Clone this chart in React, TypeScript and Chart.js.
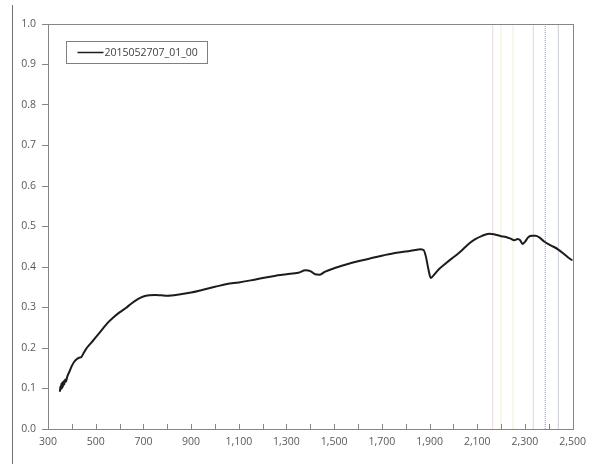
import React, { useEffect, useRef } from "react";
import { Chart, registerables } from "chart.js";

Chart.register(...registerables);

// Reflectance spectrum (wavelength in nm, reflectance 0..1)
const seriesLabel = "2015052707_01_00";
const wavelengths = [
  350, 352, 354, 356, 358, 360, 362, 365, 368, 372, 376, 380, 390, 400, 410, 420, 430, 440, 450, 460,
  480, 500, 525, 550, 575, 600, 625, 650, 675, 700, 725, 750, 775, 800, 850, 900, 950, 1000, 1050,
  1100, 1150, 1200, 1250, 1300, 1350, 1380, 1400, 1420, 1440, 1460, 1500, 1550, 1600, 1650, 1700,
  1750, 1800, 1840, 1860, 1875, 1885, 1895, 1905, 1915, 1940, 1970, 2000, 2030, 2060, 2090, 2120,
  2150, 2170, 2200, 2220, 2240, 2255, 2270, 2280, 2290, 2300, 2315, 2330, 2345, 2360, 2380, 2400,
  2420, 2440, 2460, 2480, 2500,
];
const reflectance = [
  0.092, 0.105, 0.098, 0.112, 0.1, 0.115, 0.104, 0.118, 0.11, 0.122, 0.117, 0.128, 0.142, 0.156, 0.166,
  0.172, 0.176, 0.178, 0.188, 0.198, 0.212, 0.226, 0.244, 0.262, 0.276, 0.288, 0.298, 0.31, 0.32, 0.327,
  0.33, 0.331, 0.33, 0.329, 0.332, 0.337, 0.344, 0.351, 0.358, 0.362, 0.367, 0.373, 0.378, 0.382, 0.386,
  0.392, 0.39, 0.382, 0.381, 0.388, 0.397, 0.406, 0.414, 0.421, 0.428, 0.434, 0.438, 0.442, 0.444, 0.442,
  0.425, 0.395, 0.373, 0.378, 0.395, 0.41, 0.424, 0.438, 0.455, 0.468, 0.477, 0.482, 0.481, 0.476, 0.474,
  0.47, 0.466, 0.469, 0.466, 0.457, 0.462, 0.474, 0.477, 0.477, 0.473, 0.463, 0.456, 0.45, 0.443, 0.434,
  0.424, 0.416,
];

// Absorption feature markers
const markerWavelengths = [2165, 2200, 2250, 2335, 2385, 2440];
const markerColors = ["#f0d6d6", "#f3efcf", "#f5ecd9", "#cfdce4", "#8692a2", "#c7cfdc"];
const markerDashes = [[], [], [], [], [1, 1], []];

const xMin = 300;
const xMax = 2500;
const yMin = 0;
const yMax = 1;

const labelFont = { family: "'Open Sans', sans-serif", size: 10.5 };
const labelColor = "#595959";
const axisColor = "#868686";

const formatThousands = (v: number) => {
  const s = String(Math.round(v));
  return s.length > 3 ? s.slice(0, s.length - 3) + "," + s.slice(s.length - 3) : s;
};

const framePlugin = {
  id: "frame",
  afterDraw(chart: any) {
    const { ctx, chartArea, scales } = chart;
    const { left, right, top, bottom } = chartArea;
    ctx.save();
    // plot box
    ctx.strokeStyle = axisColor;
    ctx.lineWidth = 1;
    ctx.strokeRect(Math.round(left) + 0.5, Math.round(top) + 0.5, Math.round(right - left), Math.round(bottom - top));
    // inward minor ticks on the x axis
    const xs = scales.x;
    ctx.beginPath();
    for (const t of xs.ticks) {
      const px = Math.round(xs.getPixelForValue(t.value)) + 0.5;
      ctx.moveTo(px, Math.round(bottom));
      ctx.lineTo(px, Math.round(bottom) - 5);
    }
    ctx.stroke();
    // outer frame edge
    ctx.strokeStyle = "#707070";
    ctx.beginPath();
    ctx.moveTo(12.5, 5);
    ctx.lineTo(12.5, chart.height);
    ctx.stroke();
    // legend box
    const ds = chart.data.datasets[0];
    const bx = left + 18.5;
    const by = top + 17.5;
    const bw = 141;
    const bh = 22;
    ctx.fillStyle = "#ffffff";
    ctx.fillRect(bx, by, bw, bh);
    ctx.strokeStyle = "#7f7f7f";
    ctx.strokeRect(bx, by, bw, bh);
    ctx.strokeStyle = ds.borderColor;
    ctx.lineWidth = 1.5;
    ctx.beginPath();
    ctx.moveTo(bx + 11, by + 11);
    ctx.lineTo(bx + 37, by + 11);
    ctx.stroke();
    ctx.fillStyle = "#404040";
    ctx.font = "10.5px 'Open Sans', sans-serif";
    ctx.textBaseline = "middle";
    ctx.textAlign = "left";
    ctx.fillText(ds.label, bx + 38, by + 11.5);
    ctx.restore();
  },
};

export default function App() {
  const canvasRef = useRef<HTMLCanvasElement | null>(null);

  useEffect(() => {
    if (!canvasRef.current) return;
    const spectrum = wavelengths.map((w, i) => ({ x: w, y: reflectance[i] }));
    const markers = markerWavelengths.map((w, i) => ({
      label: "marker " + w,
      data: [
        { x: w, y: yMin },
        { x: w, y: yMax },
      ],
      borderColor: markerColors[i],
      borderWidth: 1,
      borderDash: markerDashes[i],
      pointRadius: 0,
      tension: 0,
    }));

    const chart = new Chart(canvasRef.current, {
      type: "line",
      data: {
        datasets: [
          {
            label: seriesLabel,
            data: spectrum,
            borderColor: "#1c1c1c",
            borderWidth: 2,
            pointRadius: 0,
            cubicInterpolationMode: "monotone",
          },
          ...markers,
        ],
      },
      options: {
        animation: false,
        responsive: false,
        devicePixelRatio: 1,
        layout: { padding: { top: 24, right: 19, left: 0, bottom: 0 } },
        plugins: {
          legend: { display: false },
          tooltip: { enabled: false },
        },
        scales: {
          x: {
            type: "linear",
            min: xMin,
            max: xMax,
            border: { display: false },
            grid: { display: true, drawOnChartArea: false, drawTicks: false },
            ticks: {
              stepSize: 100,
              autoSkip: false,
              maxRotation: 0,
              padding: 7,
              color: labelColor,
              font: labelFont,
              callback: (v: any) => (Number(v) % 200 === 100 ? formatThousands(Number(v)) : ""),
            },
            afterFit: (s: any) => {
              s.height = 35;
            },
          },
          y: {
            min: yMin,
            max: yMax,
            border: { display: false },
            grid: { drawOnChartArea: false, drawTicks: true, tickLength: 6, color: axisColor },
            ticks: {
              stepSize: 0.1,
              padding: 6,
              color: labelColor,
              font: labelFont,
              callback: (v: any) => Number(v).toFixed(1),
            },
            afterFit: (s: any) => {
              s.width = 48;
            },
          },
        },
      },
      plugins: [framePlugin],
    });
    return () => chart.destroy();
  }, []);

  return (
    <div style={{ position: "absolute", left: 0, top: 0, width: 593, height: 464, background: "#ffffff" }}>
      <canvas ref={canvasRef} width={593} height={464} />
    </div>
  );
}
